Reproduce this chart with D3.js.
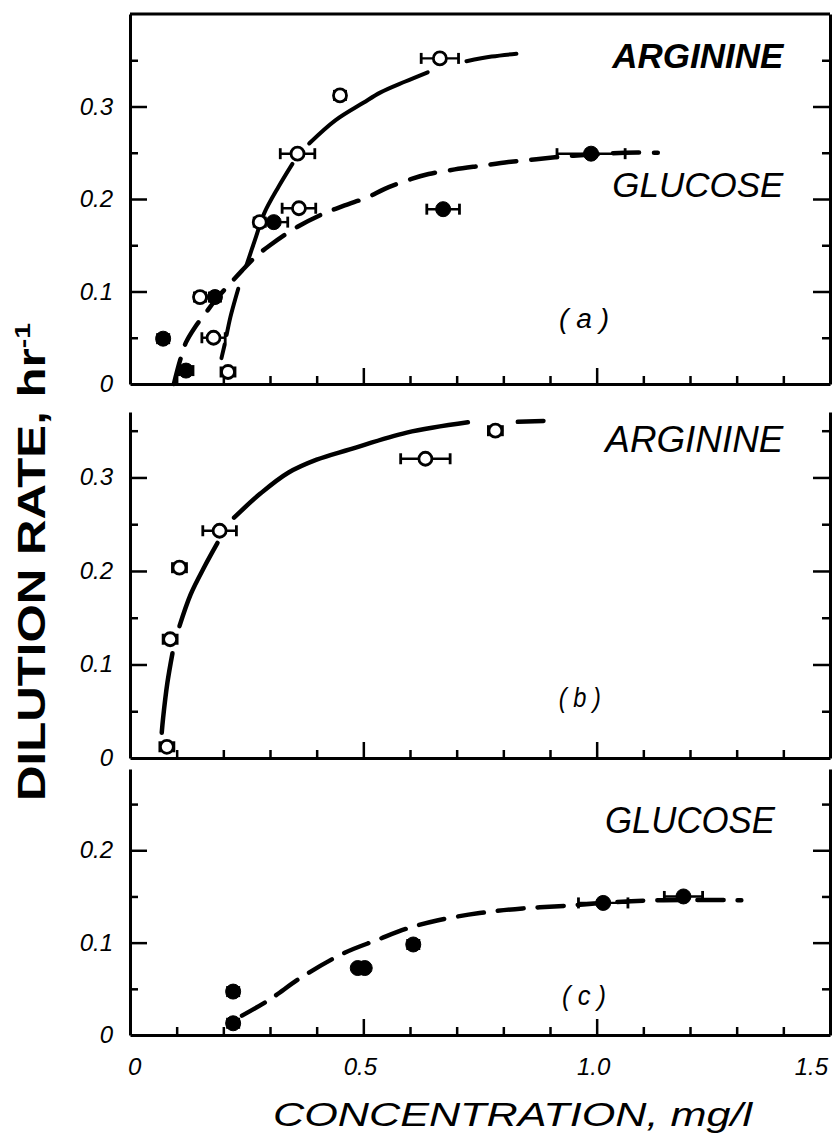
<!DOCTYPE html>
<html>
<head>
<meta charset="utf-8">
<script src="https://cdn.jsdelivr.net/npm/d3@7"></script>
<style>
  html, body { margin: 0; padding: 0; background: #fff; }
  svg { display: block; }
  text { font-family: "Liberation Sans", Arial, sans-serif; fill: #000; }
</style>
</head>
<body>
<svg id="chart" width="836" height="1136"></svg>
<script>
// ---------- axis ticks ----------
const concLabelTicks = [0, 0.5, 1.0, 1.5];
const concLabelText = ["0", "0.5", "1.0", "1.5"];
const concMajorTicks = [0.5, 1.0];
const concMinorTicks = [0.1, 0.2, 0.3, 0.4, 0.6, 0.7, 0.8, 0.9, 1.1, 1.2, 1.3, 1.4];

const rateLabelTicksAB = [0, 0.1, 0.2, 0.3];
const rateLabelTextAB = ["0", "0.1", "0.2", "0.3"];
const rateLabelTicksC = [0, 0.1, 0.2];
const rateLabelTextC = ["0", "0.1", "0.2"];
const rateMajorAB = [0.1, 0.2, 0.3];
const rateMinorAB = [0.05, 0.15, 0.25, 0.35];
const rateMajorC = [0.1, 0.2];
const rateMinorC = [0.05, 0.15, 0.25];

// ---------- panel (a): arginine (open) and glucose (filled) ----------
const argAConc = [0.664, 0.45, 0.359, 0.362, 0.278, 0.15, 0.179, 0.21];
const argARate = [0.352, 0.312, 0.249, 0.19, 0.175, 0.094, 0.05, 0.013];
const argAErr  = [0.04, 0.012, 0.037, 0.036, 0.012, 0.012, 0.025, 0.015];

const gluAConc = [0.988, 0.671, 0.308, 0.182, 0.071, 0.12];
const gluARate = [0.249, 0.189, 0.175, 0.094, 0.049, 0.0145];
const gluAErr  = [0.073, 0.035, 0.03, 0.012, 0.012, 0.015];

// arginine fit in (a), drawn as separate pen strokes
const argACurve = [
  [[0.196, 0.028], [0.203, 0.043]],
  [[0.207, 0.053], [0.215, 0.072], [0.224, 0.089], [0.232, 0.103]],
  [[0.25, 0.129], [0.268, 0.156], [0.288, 0.185], [0.318, 0.213], [0.348, 0.238]],
  [[0.384, 0.26], [0.44, 0.285], [0.5, 0.304], [0.536, 0.315], [0.59, 0.327], [0.638, 0.337]],
  [[0.721, 0.349], [0.775, 0.354], [0.828, 0.357]]
];
// glucose fit in (a), dashed
const gluACurve = [
  [0.094, 0.0], [0.107, 0.025], [0.12, 0.045], [0.14, 0.062], [0.164, 0.078],
  [0.185, 0.092], [0.21, 0.106], [0.239, 0.122], [0.27, 0.138], [0.3, 0.15],
  [0.359, 0.17], [0.414, 0.184], [0.46, 0.193], [0.51, 0.202], [0.546, 0.211],
  [0.605, 0.222], [0.64, 0.227], [0.696, 0.232], [0.753, 0.236], [0.811, 0.24],
  [0.871, 0.243], [0.93, 0.246], [0.988, 0.248], [1.06, 0.25], [1.131, 0.25]
];

// ---------- panel (b): arginine ----------
const argBConc = [0.783, 0.633, 0.192, 0.106, 0.086, 0.079];
const argBRate = [0.35, 0.32, 0.243, 0.2035, 0.127, 0.012];
const argBErr  = [0.015, 0.053, 0.036, 0.015, 0.015, 0.015];

const argBCurve = [
  [[0.068, 0.027], [0.071, 0.043], [0.08, 0.08], [0.091, 0.112]],
  [[0.106, 0.141], [0.13, 0.175], [0.16, 0.205], [0.1875, 0.23]],
  [[0.223, 0.257], [0.28, 0.283], [0.339, 0.305], [0.4, 0.319], [0.471, 0.33], [0.593, 0.348], [0.724, 0.359]],
  [[0.831, 0.3595], [0.886, 0.3605]]
];

// ---------- panel (c): glucose ----------
const gluCConc = [1.186, 1.014, 0.607, 0.503, 0.488, 0.221, 0.221];
const gluCRate = [0.15, 0.143, 0.098, 0.0725, 0.0725, 0.047, 0.0127];
const gluCErr  = [0.041, 0.053, 0.012, 0, 0, 0.012, 0.012];

const gluCCurve = [
  [0.24, 0.021], [0.298, 0.038], [0.369, 0.063], [0.46, 0.089], [0.53, 0.103],
  [0.592, 0.115], [0.658, 0.124], [0.749, 0.132], [0.841, 0.137], [0.937, 0.14],
  [1.014, 0.143], [1.132, 0.146], [1.293, 0.146], [1.31, 0.146]
];

// ---------- scales ----------
const svg = d3.select("#chart");
const x = d3.scaleLinear().domain([0, 1.5]).range([130, 830]);
const yA = d3.scaleLinear().domain([0, 0.4]).range([384, 14]);
const yB = d3.scaleLinear().domain([0, 0.37]).range([758, 412]);
const yC = d3.scaleLinear().domain([0, 0.288]).range([1035, 769]);

// frame with inward ticks on left, right and bottom
function drawFrame(y, major, minor, labelTicks, labelText, withTop) {
  const g = svg.append("g");
  const style = sel => {
    sel.selectAll(".domain").attr("stroke", "#000").attr("stroke-width", 3);
    sel.selectAll(".tick line").attr("stroke", "#000").attr("stroke-width", 2.5);
  };
  g.append("g").attr("transform", `translate(${x(0)},0)`)
    .call(d3.axisRight(y).tickValues(major).tickSize(17).tickSizeOuter(0).tickFormat(""))
    .call(style);
  g.append("g").attr("transform", `translate(${x(0)},0)`)
    .call(d3.axisRight(y).tickValues(minor).tickSize(8).tickSizeOuter(0).tickFormat(""))
    .call(style).call(s => s.select(".domain").remove());
  g.append("g").attr("transform", `translate(${x(1.5)},0)`)
    .call(d3.axisLeft(y).tickValues(major).tickSize(17).tickSizeOuter(0).tickFormat(""))
    .call(style);
  g.append("g").attr("transform", `translate(${x(1.5)},0)`)
    .call(d3.axisLeft(y).tickValues(minor).tickSize(8).tickSizeOuter(0).tickFormat(""))
    .call(style).call(s => s.select(".domain").remove());
  g.append("g").attr("transform", `translate(0,${y(0)})`)
    .call(d3.axisTop(x).tickValues(concMinorTicks).tickSize(8).tickSizeOuter(0).tickFormat(""))
    .call(style);
  g.append("g").attr("transform", `translate(0,${y(0)})`)
    .call(d3.axisTop(x).tickValues(concMajorTicks).tickSize(16).tickSizeOuter(0).tickFormat(""))
    .call(style).call(s => s.select(".domain").remove());
  if (withTop) {
    g.append("line").attr("x1", x(0)).attr("x2", x(1.5))
      .attr("y1", y.range()[1]).attr("y2", y.range()[1])
      .attr("stroke", "#000").attr("stroke-width", 3);
  }
  g.selectAll(null).data(labelTicks).enter().append("text")
    .attr("x", 113).attr("y", d => y(d) + 8)
    .attr("text-anchor", "end")
    .attr("font-size", 24).attr("font-style", "italic")
    .text((d, i) => labelText[i]);
}

const strokeLine = y => d3.line().x(d => x(d[0])).y(d => y(d[1])).curve(d3.curveCatmullRom.alpha(0.5));

function drawStrokes(y, strokes, width) {
  svg.append("g").selectAll("path").data(strokes).enter().append("path")
    .attr("d", strokeLine(y))
    .attr("fill", "none").attr("stroke", "#000")
    .attr("stroke-width", width).attr("stroke-linecap", "round");
}

function drawDashed(y, pts, width, dash) {
  svg.append("path").datum(pts)
    .attr("d", strokeLine(y))
    .attr("fill", "none").attr("stroke", "#000")
    .attr("stroke-width", width).attr("stroke-linecap", "round")
    .attr("stroke-dasharray", dash);
}

function drawPoints(y, conc, rate, err, open) {
  const pts = conc.map((c, i) => ({ c, d: rate[i], e: err[i] }));
  const g = svg.append("g");
  const withErr = pts.filter(p => p.e > 0);
  g.selectAll(".eb").data(withErr).enter().append("line")
    .attr("x1", p => x(p.c - p.e)).attr("x2", p => x(p.c + p.e))
    .attr("y1", p => y(p.d)).attr("y2", p => y(p.d))
    .attr("stroke", "#000").attr("stroke-width", 2.4);
  [-1, 1].forEach(s => {
    g.selectAll(null).data(withErr).enter().append("line")
      .attr("x1", p => x(p.c + s * p.e)).attr("x2", p => x(p.c + s * p.e))
      .attr("y1", p => y(p.d) - 5.5).attr("y2", p => y(p.d) + 5.5)
      .attr("stroke", "#000").attr("stroke-width", 2.8);
  });
  g.selectAll("circle").data(pts).enter().append("circle")
    .attr("cx", p => x(p.c)).attr("cy", p => y(p.d))
    .attr("r", open ? 6.5 : 7.5)
    .attr("fill", open ? "#fff" : "#000")
    .attr("stroke", "#000").attr("stroke-width", open ? 2.8 : 1);
}

function label(txt, xPos, yBase, size, opts) {
  const t = svg.append("text").attr("x", xPos).attr("y", yBase)
    .attr("font-size", size).attr("font-style", "italic")
    .attr("text-anchor", opts.anchor || "start")
    .text(txt);
  if (opts.bold) t.attr("font-weight", "bold");
  if (opts.len) t.attr("textLength", opts.len).attr("lengthAdjust", "spacingAndGlyphs");
  return t;
}

// ---------- panel (a) ----------
drawFrame(yA, rateMajorAB, rateMinorAB, rateLabelTicksAB, rateLabelTextAB, true);
drawDashed(yA, gluACurve, 4.5, "26,15");
drawStrokes(yA, argACurve, 4);
drawPoints(yA, gluAConc, gluARate, gluAErr, false);
drawPoints(yA, argAConc, argARate, argAErr, true);
label("ARGININE", x(1.4), 68, 35, { anchor: "end", bold: true, len: 171 });
label("GLUCOSE", x(1.4), 197, 35, { anchor: "end", len: 171 });
label("( a )", x(0.973), 328, 27, { anchor: "middle", len: 50 });

// ---------- panel (b) ----------
drawFrame(yB, rateMajorAB, rateMinorAB, rateLabelTicksAB, rateLabelTextAB, false);
drawStrokes(yB, argBCurve, 4.5);
drawPoints(yB, argBConc, argBRate, argBErr, true);
label("ARGININE", x(1.4), 452, 36, { anchor: "end", len: 178 });
label("( b )", x(0.964), 707, 27, { anchor: "middle", len: 42 });

// ---------- panel (c) ----------
drawFrame(yC, rateMajorC, rateMinorC, rateLabelTicksC, rateLabelTextC, false);
drawDashed(yC, gluCCurve, 4.5, "26,14");
drawPoints(yC, gluCConc, gluCRate, gluCErr, false);
label("GLUCOSE", x(1.382), 833, 36, { anchor: "end", len: 170 });
label("( c )", x(0.973), 1005, 27, { anchor: "middle", len: 44 });

// ---------- x tick labels and titles ----------
svg.selectAll(".xl").data(concLabelTicks).enter().append("text")
  .attr("x", (d, i) => i === 0 ? x(d) - 2 : (i === concLabelTicks.length - 1 ? x(d) - 2 : x(d) - 3))
  .attr("y", 1075)
  .attr("text-anchor", (d, i) => i === 0 ? "start" : (i === concLabelTicks.length - 1 ? "end" : "middle"))
  .attr("font-size", 24).attr("font-style", "italic")
  .text((d, i) => concLabelText[i]);

label("CONCENTRATION, mg/l", 273, 1126, 34, { len: 479 });

const yTitle = svg.append("text")
  .attr("transform", "translate(45,562) rotate(-90)")
  .attr("text-anchor", "middle")
  .attr("font-size", 38).attr("font-weight", "bold")
  .attr("textLength", 478).attr("lengthAdjust", "spacingAndGlyphs");
yTitle.append("tspan").text("DILUTION RATE, hr");
yTitle.append("tspan").attr("font-size", 22).attr("dy", -15).text("-1");
</script>
</body>
</html>
